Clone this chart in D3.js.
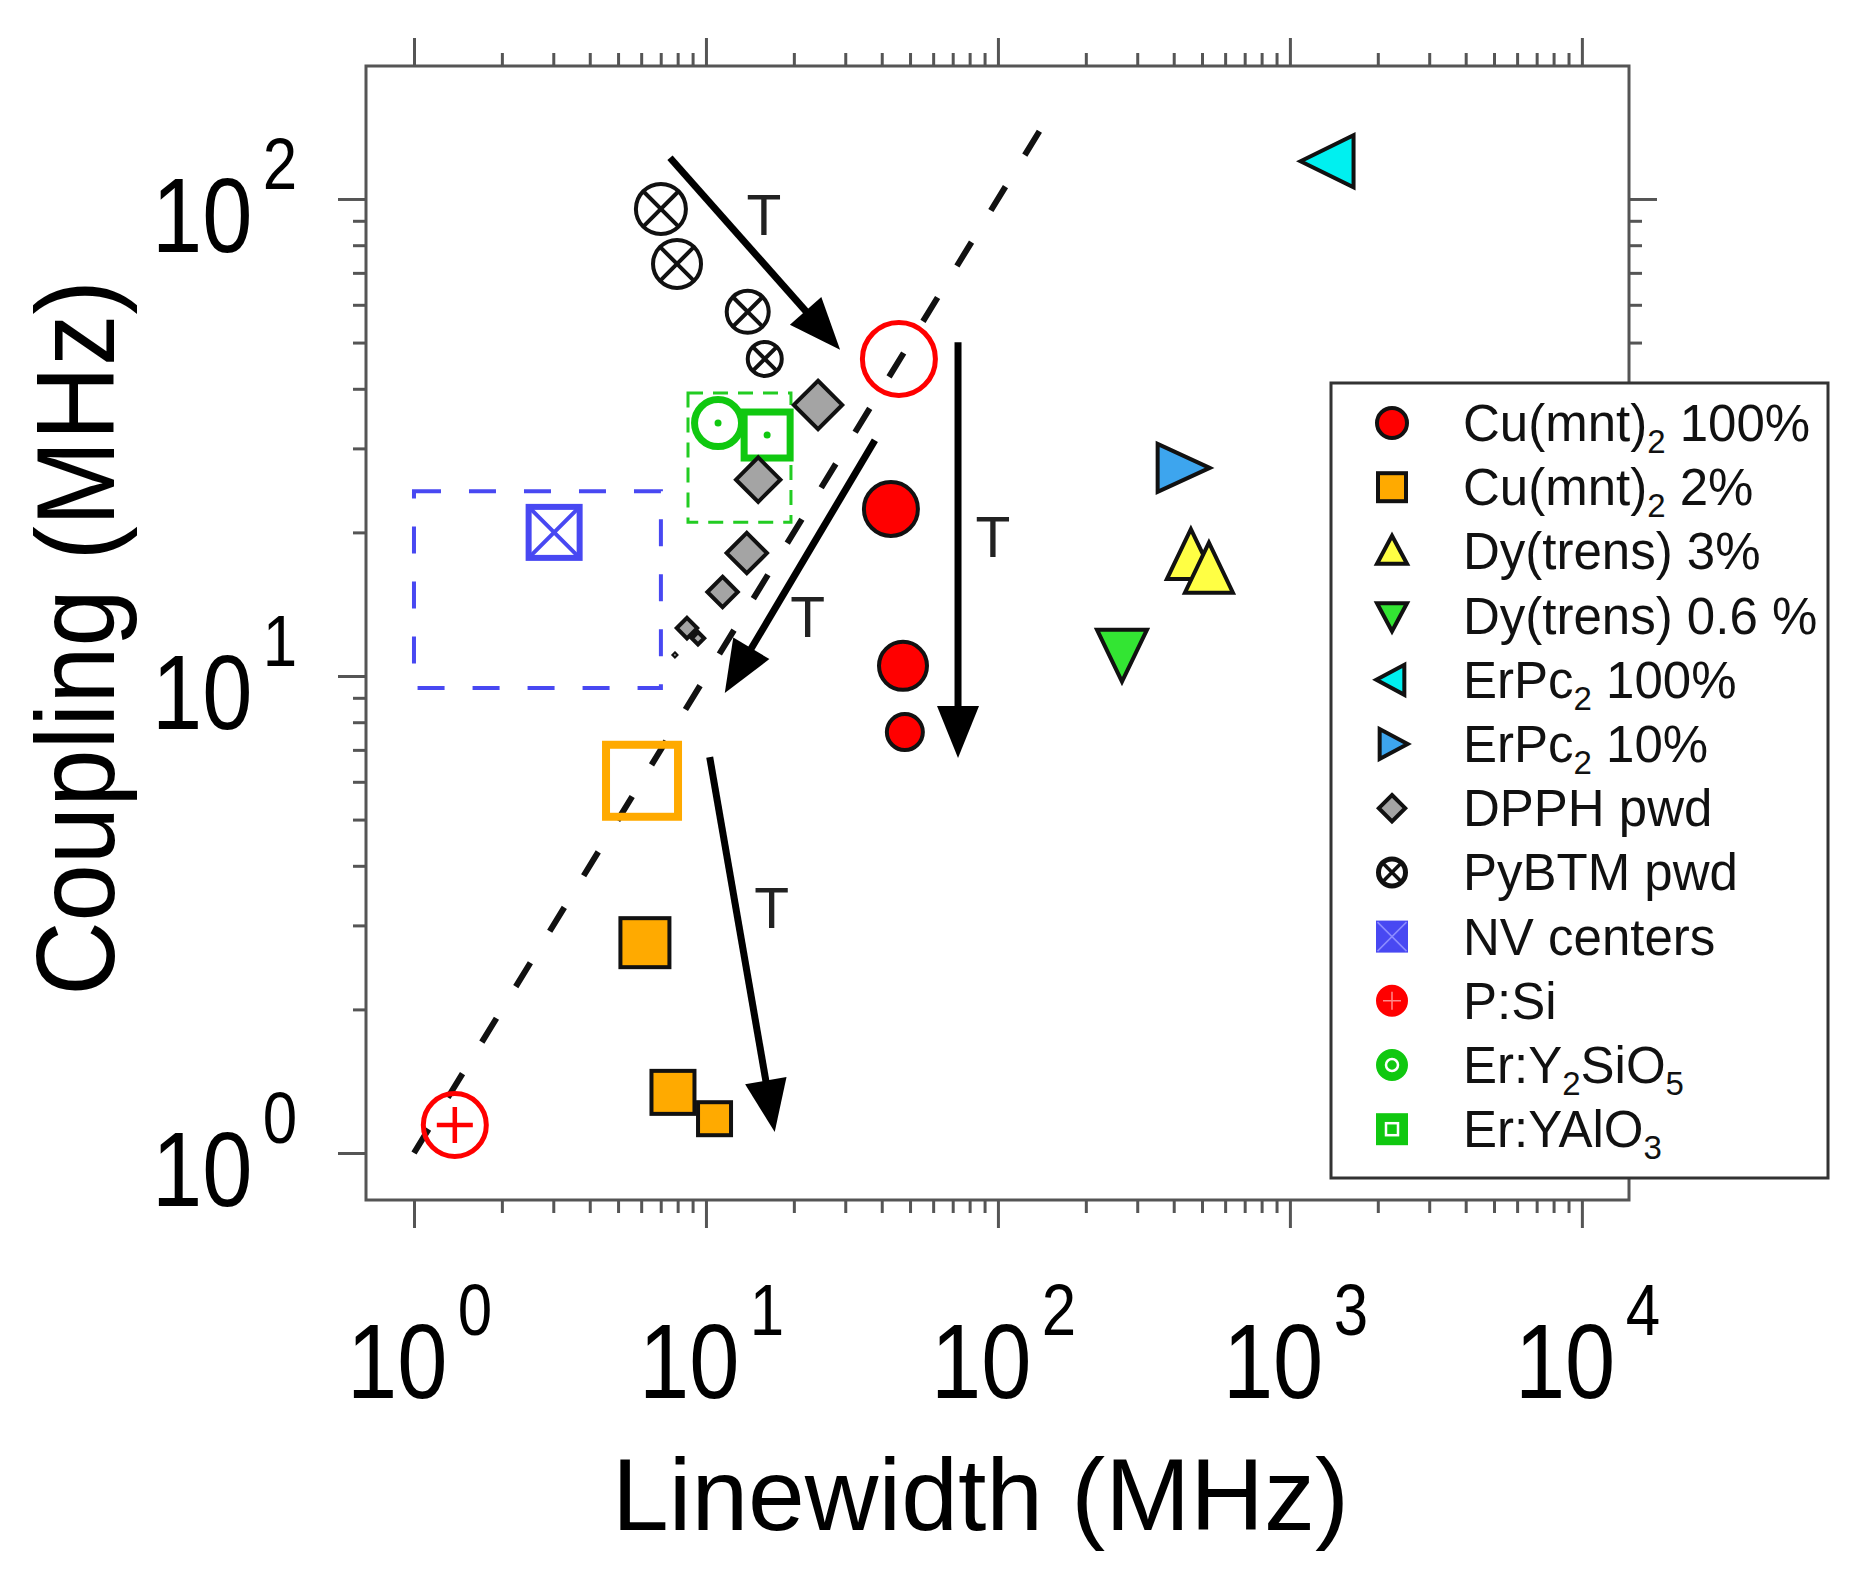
<!DOCTYPE html>
<html><head><meta charset="utf-8">
<script src="https://cdn.jsdelivr.net/npm/d3@7"></script>
<style>
body{margin:0;background:#fff}
svg{display:block}
text{font-family:"Liberation Sans",Arial,Helvetica,sans-serif}
</style>
</head><body>
<svg id="chart" width="1858" height="1576"></svg>
<script>
// ---------------- DATA ----------------
const cuMnt100X = [43.0, 47.3, 48.0];
const cuMnt100Y = [22.4, 10.5, 7.63];
const cuMnt100OpenX = [45.8];
const cuMnt100OpenY = [46.2];
const cuMnt2X = [6.18, 7.71, 10.7];
const cuMnt2Y = [2.76, 1.34, 1.18];
const cuMnt2OpenX = [6.04];
const cuMnt2OpenY = [6.03];
const dyTrens3X = [458, 528];
const dyTrens3Y = [17.3, 16.2];
const dyTrens06X = [266];
const dyTrens06Y = [11.5];
const erPc100X = [1437];
const erPc100Y = [120];
const erPc10X = [404];
const erPc10Y = [27.3];
const dpphX = [24.2, 15.1, 13.8, 11.4, 8.61, 9.39, 7.83];
const dpphY = [37.0, 25.8, 18.1, 15.0, 12.6, 12.0, 11.07];
const pybtmX = [7.01, 7.96, 13.9, 15.9];
const pybtmY = [95.3, 73.1, 58.0, 46.2];
const nvX = [3.02];
const nvY = [20.0];
const nvRangeX = [1.0, 7.01];
const nvRangeY = [9.44, 24.4];
const psiX = [1.38];
const psiY = [1.145];
const erYsoX = [11.0];
const erYsoY = [33.9];
const erYaloX = [16.2];
const erYaloY = [32.0];
const erRangeX = [8.68, 19.55];
const erRangeY = [21.0, 39.2];
const guideX = [1, 145];
const guideY = [1, 145];
const arrowStartX = [7.53, 37.9, 73.0, 10.3];
const arrowStartY = [122, 31.2, 50.1, 6.76];
const arrowEndX = [28.8, 11.6, 73.0, 17.2];
const arrowEndY = [48.3, 9.21, 6.73, 1.107];
const arrowLabelX = [15.8, 22.3, 96.1, 16.8];
const arrowLabelY = [92.6, 13.3, 19.6, 3.26];
const arrowLabel = "T";
const xTickExp = [0, 1, 2, 3, 4];
const yTickExp = [0, 1, 2];
const xTitle = "Linewidth (MHz)";
const yTitle = "Coupling (MHz)";
// legend labels: even parts normal text, odd parts subscripts
const legendLabels = [
  ["Cu(mnt)", "2", " 100%"],
  ["Cu(mnt)", "2", " 2%"],
  ["Dy(trens) 3%"],
  ["Dy(trens) 0.6 %"],
  ["ErPc", "2", " 100%"],
  ["ErPc", "2", " 10%"],
  ["DPPH pwd"],
  ["PyBTM pwd"],
  ["NV centers"],
  ["P:Si"],
  ["Er:Y", "2", "SiO", "5"],
  ["Er:YAlO", "3"]
];

// ---------------- STYLE (marker sizes in px, outer extent) ----------------
const cuMnt100Size = [29, 26, 20];      // outer radius
const cuMnt100OpenSize = [39];
const cuMnt2Size = [53, 47, 37];        // outer side
const cuMnt2OpenSize = [80];
const dpphSize = [27, 25, 23, 18, 13, 9, 4]; // half diagonal
const pybtmSize = [27, 26, 23, 19];     // outer radius

const C = {
  red: "#ff0000", orange: "#ffaa00", yellow: "#ffff44", green: "#33e533",
  cyan: "#00f0f0", blue: "#3da5ee", grey: "#a4a4a4", nv: "#4848f2",
  erGreen: "#10c810", axis: "#555555", ink: "#111111"
};

// ---------------- SCALES ----------------
const plot = {left: 366, right: 1629, top: 66, bottom: 1200};
const x = d3.scaleLog().domain([0.685, 14500]).range([plot.left, plot.right]);
const y = d3.scaleLog().domain([0.797, 190]).range([plot.bottom, plot.top]);

const svg = d3.select("#chart");
const zip = (a, b) => a.map((v, i) => [v, b[i]]);

// ---------------- AXES ----------------
const xMajor = xTickExp.map(e => Math.pow(10, e));
const yMajor = yTickExp.map(e => Math.pow(10, e));
const xMinor = [];
for (let e = 0; e < 4; e++) for (let k = 2; k <= 9; k++) xMinor.push(k * Math.pow(10, e));
const yMinor = [];
for (let e = 0; e < 2; e++) for (let k = 2; k <= 9; k++) yMinor.push(k * Math.pow(10, e));

function axisGroup(axisFn, scale, vals, size, transform) {
  const g = svg.append("g").attr("transform", transform)
    .call(axisFn(scale).tickValues(vals).tickSize(size).tickSizeOuter(0).tickFormat(""));
  g.select(".domain").remove();
  g.selectAll(".tick line").attr("stroke", C.axis).attr("stroke-width", 3);
  return g;
}
axisGroup(d3.axisBottom, x, xMajor, 28, `translate(0,${plot.bottom})`);
axisGroup(d3.axisBottom, x, xMinor, 13, `translate(0,${plot.bottom})`);
axisGroup(d3.axisTop, x, xMajor, 28, `translate(0,${plot.top})`);
axisGroup(d3.axisTop, x, xMinor, 13, `translate(0,${plot.top})`);
axisGroup(d3.axisLeft, y, yMajor, 28, `translate(${plot.left},0)`);
axisGroup(d3.axisLeft, y, yMinor, 13, `translate(${plot.left},0)`);
axisGroup(d3.axisRight, y, yMajor, 28, `translate(${plot.right},0)`);
axisGroup(d3.axisRight, y, yMinor, 13, `translate(${plot.right},0)`);

svg.append("rect")
  .attr("x", plot.left).attr("y", plot.top)
  .attr("width", plot.right - plot.left).attr("height", plot.bottom - plot.top)
  .attr("fill", "none").attr("stroke", C.axis).attr("stroke-width", 3);

// tick labels  10^n  (condensed glyphs)
function powerLabel(px, py, exp) {
  const t = svg.append("text")
    .attr("transform", `translate(${px},${py}) scale(0.86,1)`)
    .attr("fill", "#000").attr("font-size", 105);
  t.append("tspan").text("10");
  t.append("tspan").attr("dx", 12).attr("dy", -63).attr("font-size", 72).text(exp);
}
xTickExp.forEach(e => powerLabel(x(Math.pow(10, e)) - 67, 1398, e));
yTickExp.forEach(e => powerLabel(152, y(Math.pow(10, e)) + 53, e));

// axis titles
svg.append("text").attr("x", 612).attr("y", 1530)
  .attr("font-size", 102).attr("fill", "#000").text(xTitle);
svg.append("text")
  .attr("transform", `translate(114,${(plot.top + plot.bottom) / 2 + 5}) rotate(-90) scale(0.92,1)`)
  .attr("text-anchor", "middle").attr("font-size", 112).attr("fill", "#000").text(yTitle);

// ---------------- RANGE BOXES ----------------
function rangeBox(rx, ry, color, dash, w) {
  svg.append("rect")
    .attr("x", x(rx[0])).attr("y", y(ry[1]))
    .attr("width", x(rx[1]) - x(rx[0])).attr("height", y(ry[0]) - y(ry[1]))
    .attr("fill", "none").attr("stroke", color).attr("stroke-width", w)
    .attr("stroke-dasharray", dash);
}
rangeBox(nvRangeX, nvRangeY, C.nv, "27,28", 4);
rangeBox(erRangeX, erRangeY, "#22cc22", "15,10", 3);

// ---------------- GUIDE LINE ----------------
svg.append("path")
  .attr("d", d3.line()(zip(guideX, guideY).map(d => [x(d[0]), y(d[1])])))
  .attr("stroke", C.ink).attr("stroke-width", 6).attr("fill", "none")
  .attr("stroke-dasharray", "28,37");

// ---------------- MARKERS ----------------
function marker(g, type, cx, cy, s, o) {
  const sw = o.sw;
  const stroke = o.stroke, fill = o.fill;
  const grp = g.append("g").attr("transform", `translate(${cx},${cy})`);
  const styl = sel => sel.attr("fill", fill).attr("stroke", stroke).attr("stroke-width", sw).attr("stroke-linejoin", "miter");
  if (type === "circle") {
    styl(grp.append("circle").attr("r", s - sw / 2));
  } else if (type === "square") {
    const a = s - sw;
    styl(grp.append("rect").attr("x", -a / 2).attr("y", -a / 2).attr("width", a).attr("height", a));
  } else if (type === "diamond") {
    const h = s - sw * 0.7;
    styl(grp.append("path").attr("d", `M0,${-h}L${h},0L0,${h}L${-h},0Z`));
  } else if (type.startsWith("tri")) {
    const w = o.w - sw, h = o.h - sw;
    let pts;
    if (type === "tri-up") pts = [[0, -2 * h / 3], [w / 2, h / 3], [-w / 2, h / 3]];
    if (type === "tri-down") pts = [[0, 2 * h / 3], [w / 2, -h / 3], [-w / 2, -h / 3]];
    if (type === "tri-left") pts = [[-2 * w / 3, 0], [w / 3, -h / 2], [w / 3, h / 2]];
    if (type === "tri-right") pts = [[2 * w / 3, 0], [-w / 3, -h / 2], [-w / 3, h / 2]];
    styl(grp.append("path").attr("d", "M" + pts.map(p => p.join(",")).join("L") + "Z"));
  } else if (type === "otimes") {
    const r = s - sw / 2;
    styl(grp.append("circle").attr("r", r));
    const k = r * 0.707;
    grp.append("path").attr("d", `M${-k},${-k}L${k},${k}M${k},${-k}L${-k},${k}`)
      .attr("stroke", o.mark || stroke).attr("stroke-width", o.msw || sw);
  } else if (type === "oplus") {
    const r = s - sw / 2;
    styl(grp.append("circle").attr("r", r));
    const k = o.arm;
    grp.append("path").attr("d", `M${-k},0L${k},0M0,${-k}L0,${k}`)
      .attr("stroke", o.mark || stroke).attr("stroke-width", o.msw || sw);
  } else if (type === "odot") {
    const r = s - sw / 2;
    styl(grp.append("circle").attr("r", r));
    if (o.ring) grp.append("circle").attr("r", o.ring).attr("fill", "none").attr("stroke", "#fff").attr("stroke-width", o.msw);
    grp.append("circle").attr("r", o.dot).attr("fill", o.mark || stroke);
  } else if (type === "boxdot") {
    const a = s - sw;
    styl(grp.append("rect").attr("x", -a / 2).attr("y", -a / 2).attr("width", a).attr("height", a));
    if (o.ring) grp.append("rect").attr("x", -o.ring).attr("y", -o.ring).attr("width", 2 * o.ring).attr("height", 2 * o.ring)
      .attr("fill", "none").attr("stroke", "#fff").attr("stroke-width", o.msw);
    grp.append("circle").attr("r", o.dot).attr("fill", o.mark || stroke);
  } else if (type === "boxX") {
    const a = s - sw;
    styl(grp.append("rect").attr("x", -a / 2).attr("y", -a / 2).attr("width", a).attr("height", a));
    const k = a / 2;
    grp.append("path").attr("d", `M${-k},${-k}L${k},${k}M${k},${-k}L${-k},${k}`)
      .attr("stroke", o.mark || stroke).attr("stroke-width", o.msw || sw);
  }
  return grp;
}

const gm = svg.append("g");
// P:Si
zip(psiX, psiY).forEach(d => marker(gm, "oplus", x(d[0]), y(d[1]), 34, {fill: "none", stroke: C.red, sw: 5, arm: 18, msw: 4.5}));
// NV centers
zip(nvX, nvY).forEach(d => marker(gm, "boxX", x(d[0]), y(d[1]), 57, {fill: "#fff", stroke: C.nv, sw: 6, msw: 4}));
// Er:Y2SiO5 and Er:YAlO3
zip(erYsoX, erYsoY).forEach(d => marker(gm, "odot", x(d[0]), y(d[1]), 27, {fill: "none", stroke: C.erGreen, sw: 7, dot: 3.5}));
zip(erYaloX, erYaloY).forEach(d => marker(gm, "boxdot", x(d[0]), y(d[1]), 53, {fill: "none", stroke: C.erGreen, sw: 7, dot: 3.5}));
// PyBTM
zip(pybtmX, pybtmY).forEach((d, i) => marker(gm, "otimes", x(d[0]), y(d[1]), pybtmSize[i], {fill: "#fff", stroke: C.ink, sw: 4, msw: 4}));
// DPPH
zip(dpphX, dpphY).forEach((d, i) => marker(gm, "diamond", x(d[0]), y(d[1]), dpphSize[i], {fill: C.grey, stroke: C.ink, sw: i > 5 ? 2 : 4}));
// Cu(mnt)2 100%
zip(cuMnt100OpenX, cuMnt100OpenY).forEach((d, i) => marker(gm, "circle", x(d[0]), y(d[1]), cuMnt100OpenSize[i], {fill: "none", stroke: C.red, sw: 5}));
zip(cuMnt100X, cuMnt100Y).forEach((d, i) => marker(gm, "circle", x(d[0]), y(d[1]), cuMnt100Size[i], {fill: C.red, stroke: C.ink, sw: 4}));
// Cu(mnt)2 2%
zip(cuMnt2OpenX, cuMnt2OpenY).forEach((d, i) => marker(gm, "square", x(d[0]), y(d[1]), cuMnt2OpenSize[i], {fill: "none", stroke: C.orange, sw: 8}));
zip(cuMnt2X, cuMnt2Y).forEach((d, i) => marker(gm, "square", x(d[0]), y(d[1]), cuMnt2Size[i], {fill: C.orange, stroke: C.ink, sw: 4}));
// Dy(trens)
zip(dyTrens3X, dyTrens3Y).forEach(d => marker(gm, "tri-up", x(d[0]), y(d[1]), 0, {fill: C.yellow, stroke: C.ink, sw: 4, w: 52, h: 54}));
zip(dyTrens06X, dyTrens06Y).forEach(d => marker(gm, "tri-down", x(d[0]), y(d[1]), 0, {fill: C.green, stroke: C.ink, sw: 4, w: 54, h: 56}));
// ErPc2
zip(erPc100X, erPc100Y).forEach(d => marker(gm, "tri-left", x(d[0]), y(d[1]), 0, {fill: C.cyan, stroke: C.ink, sw: 4, w: 57, h: 56}));
zip(erPc10X, erPc10Y).forEach(d => marker(gm, "tri-right", x(d[0]), y(d[1]), 0, {fill: C.blue, stroke: C.ink, sw: 4, w: 56, h: 52}));

// ---------------- ARROWS ----------------
const ga = svg.append("g");
arrowStartX.forEach((_, i) => {
  const x1 = x(arrowStartX[i]), y1 = y(arrowStartY[i]);
  const x2 = x(arrowEndX[i]), y2 = y(arrowEndY[i]);
  const len = Math.hypot(x2 - x1, y2 - y1);
  const ux = (x2 - x1) / len, uy = (y2 - y1) / len;
  const L = 52, W = 21;
  const bx = x2 - ux * L, by = y2 - uy * L;
  ga.append("line").attr("x1", x1).attr("y1", y1).attr("x2", bx + ux * 4).attr("y2", by + uy * 4)
    .attr("stroke", "#000").attr("stroke-width", 7);
  ga.append("path")
    .attr("d", `M${x2},${y2}L${bx - uy * W},${by + ux * W}L${bx + uy * W},${by - ux * W}Z`)
    .attr("fill", "#000");
  ga.append("text").attr("x", x(arrowLabelX[i])).attr("y", y(arrowLabelY[i]) + 20)
    .attr("text-anchor", "middle").attr("font-size", 57).attr("fill", "#222").text(arrowLabel);
});

// ---------------- LEGEND ----------------
const leg = {x: 1331, y: 383, w: 497, h: 795, sx: 1392, tx: 1463, y0: 423, dy: 64.2};
svg.append("rect").attr("x", leg.x).attr("y", leg.y).attr("width", leg.w).attr("height", leg.h)
  .attr("fill", "#fff").attr("stroke", "#333").attr("stroke-width", 3);
const gl = svg.append("g");
const legendSymbols = [
  (cx, cy) => marker(gl, "circle", cx, cy, 17, {fill: C.red, stroke: C.ink, sw: 4}),
  (cx, cy) => marker(gl, "square", cx, cy, 32, {fill: C.orange, stroke: C.ink, sw: 4}),
  (cx, cy) => marker(gl, "tri-up", cx, cy + 3, 0, {fill: C.yellow, stroke: C.ink, sw: 4, w: 34, h: 32}),
  (cx, cy) => marker(gl, "tri-down", cx, cy - 3, 0, {fill: C.green, stroke: C.ink, sw: 4, w: 34, h: 32}),
  (cx, cy) => marker(gl, "tri-left", cx + 3, cy, 0, {fill: C.cyan, stroke: C.ink, sw: 4, w: 32, h: 34}),
  (cx, cy) => marker(gl, "tri-right", cx - 3, cy, 0, {fill: C.blue, stroke: C.ink, sw: 4, w: 32, h: 34}),
  (cx, cy) => marker(gl, "diamond", cx, cy, 16, {fill: C.grey, stroke: C.ink, sw: 4}),
  (cx, cy) => marker(gl, "otimes", cx, cy, 16, {fill: "#fff", stroke: C.ink, sw: 5, msw: 3.5}),
  (cx, cy) => marker(gl, "boxX", cx, cy, 32, {fill: C.nv, stroke: C.nv, sw: 3, mark: "#8c8cff", msw: 1.5}),
  (cx, cy) => marker(gl, "oplus", cx, cy, 16, {fill: C.red, stroke: C.red, sw: 2, arm: 9, mark: "#ff8a8a", msw: 1.5}),
  (cx, cy) => marker(gl, "odot", cx, cy, 16, {fill: C.erGreen, stroke: C.erGreen, sw: 2, ring: 6, msw: 2.5, dot: 2.5}),
  (cx, cy) => marker(gl, "boxdot", cx, cy, 32, {fill: C.erGreen, stroke: C.erGreen, sw: 2, ring: 6, msw: 2.5, dot: 2.5})
];
legendLabels.forEach((parts, i) => {
  const cy = leg.y0 + i * leg.dy;
  legendSymbols[i](leg.sx, cy);
  const t = gl.append("text").attr("x", leg.tx).attr("y", cy + 18)
    .attr("font-size", 51).attr("fill", C.ink);
  parts.forEach((p, j) => {
    if (j % 2 === 1) t.append("tspan").attr("dy", 12).attr("font-size", 33).text(p);
    else t.append("tspan").attr("dy", j === 0 ? 0 : -12).attr("font-size", 51).text(p);
  });
});
</script>
</body></html>
